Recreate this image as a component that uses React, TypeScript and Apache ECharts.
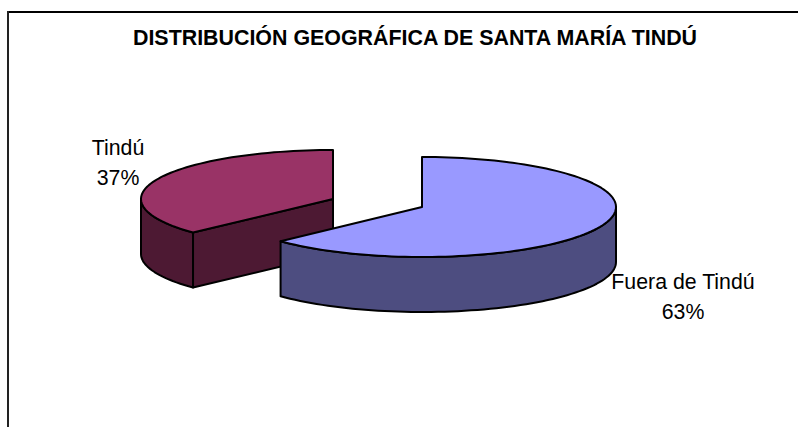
import React, { useEffect, useRef } from "react";
import * as echarts from "echarts";

const TITLE = "DISTRIBUCIÓN GEOGRÁFICA DE SANTA MARÍA TINDÚ";
const categories = ["Fuera de Tindú", "Tindú"];
const values = [63, 37];
const FONT = '"Liberation Sans", Arial, sans-serif';

// Per-slice drawing styles, same order as the categories.
const sliceStyles = [
  { cx: 422, cy: 207, rx: 194, ry: 50, depth: 55, top: "#9999FF", side: "#4D4D80", labelX: 683, labelY: 296.5 },
  { cx: 333, cy: 199, rx: 192, ry: 49, depth: 55, top: "#993366", side: "#4D1933", labelX: 118, labelY: 162.5 },
];
const total = values.reduce((a, b) => a + b, 0);
const STROKE = { stroke: "#000", lineWidth: 2, lineJoin: "round" };

function arc(s: any, a0: number, a1: number, dy = 0): number[][] {
  const pts: number[][] = [];
  const n = Math.max(2, Math.ceil(Math.abs(a1 - a0) / 2));
  for (let i = 0; i <= n; i++) {
    const a = ((a0 + ((a1 - a0) * i) / n) * Math.PI) / 180;
    pts.push([s.cx + s.rx * Math.sin(a), s.cy - s.ry * Math.cos(a) + dy]);
  }
  return pts;
}

const renderSlice = (index: number) => (_params: any, api: any) => {
  const s = sliceStyles[index];
  const before = values.slice(0, index).reduce((a, b) => a + b, 0);
  const start = (before / total) * 360;
  const end = start + (api.value(0) / total) * 360;
  const children: any[] = [];
  // outer wall: only the front half of the rim (90..270 degrees) faces the viewer
  const w0 = Math.max(start, 90);
  const w1 = Math.min(end, 270);
  if (w1 > w0) {
    const pts = [...arc(s, w0, w1), ...arc(s, w0, w1, s.depth).reverse()];
    children.push({ type: "polygon", shape: { points: pts }, style: { fill: s.side, ...STROKE } });
  }
  // cut face on the starting edge
  if (start > 0 && start < 270) {
    const tip = arc(s, start, start)[0];
    const pts = [[s.cx, s.cy], tip, [tip[0], tip[1] + s.depth], [s.cx, s.cy + s.depth]];
    children.push({ type: "polygon", shape: { points: pts }, style: { fill: s.side, ...STROKE } });
  }
  // top face
  children.push({
    type: "polygon",
    shape: { points: [[s.cx, s.cy], ...arc(s, start, end)] },
    style: { fill: s.top, ...STROKE },
  });
  children.push({
    type: "text",
    style: {
      x: s.labelX,
      y: s.labelY,
      text: `${categories[index]}\n${api.value(0)}%`,
      align: "center",
      verticalAlign: "middle",
      font: `21.3px ${FONT}`,
      lineHeight: 30,
      fill: "#000",
    },
  });
  return { type: "group", children };
};

export default function App() {
  const ref = useRef<HTMLDivElement>(null);
  useEffect(() => {
    const chart = echarts.init(ref.current!, undefined, { renderer: "svg" });
    chart.setOption({
      animation: false,
      backgroundColor: "#fff",
      title: {
        text: TITLE,
        left: 410,
        top: 22,
        textAlign: "center",
        textStyle: { fontFamily: FONT, fontWeight: "bold", fontSize: 21.4, color: "#000" },
      },
      graphic: [
        { type: "line", shape: { x1: 8, y1: 12, x2: 798, y2: 12 }, style: { stroke: "#000", lineWidth: 2 } },
        { type: "line", shape: { x1: 8, y1: 11, x2: 8, y2: 427 }, style: { stroke: "#222", lineWidth: 2 } },
      ],
      // Tindú is behind the other slice, so it is drawn first
      series: [1, 0].map((i, order) => ({
        type: "custom",
        name: categories[i],
        coordinateSystem: "none",
        z: order + 2,
        silent: true,
        data: [[values[i]]],
        renderItem: renderSlice(i),
      })),
    });
    return () => chart.dispose();
  }, []);
  return <div ref={ref} style={{ position: "absolute", left: 0, top: 0, width: 798, height: 427 }} />;
}
